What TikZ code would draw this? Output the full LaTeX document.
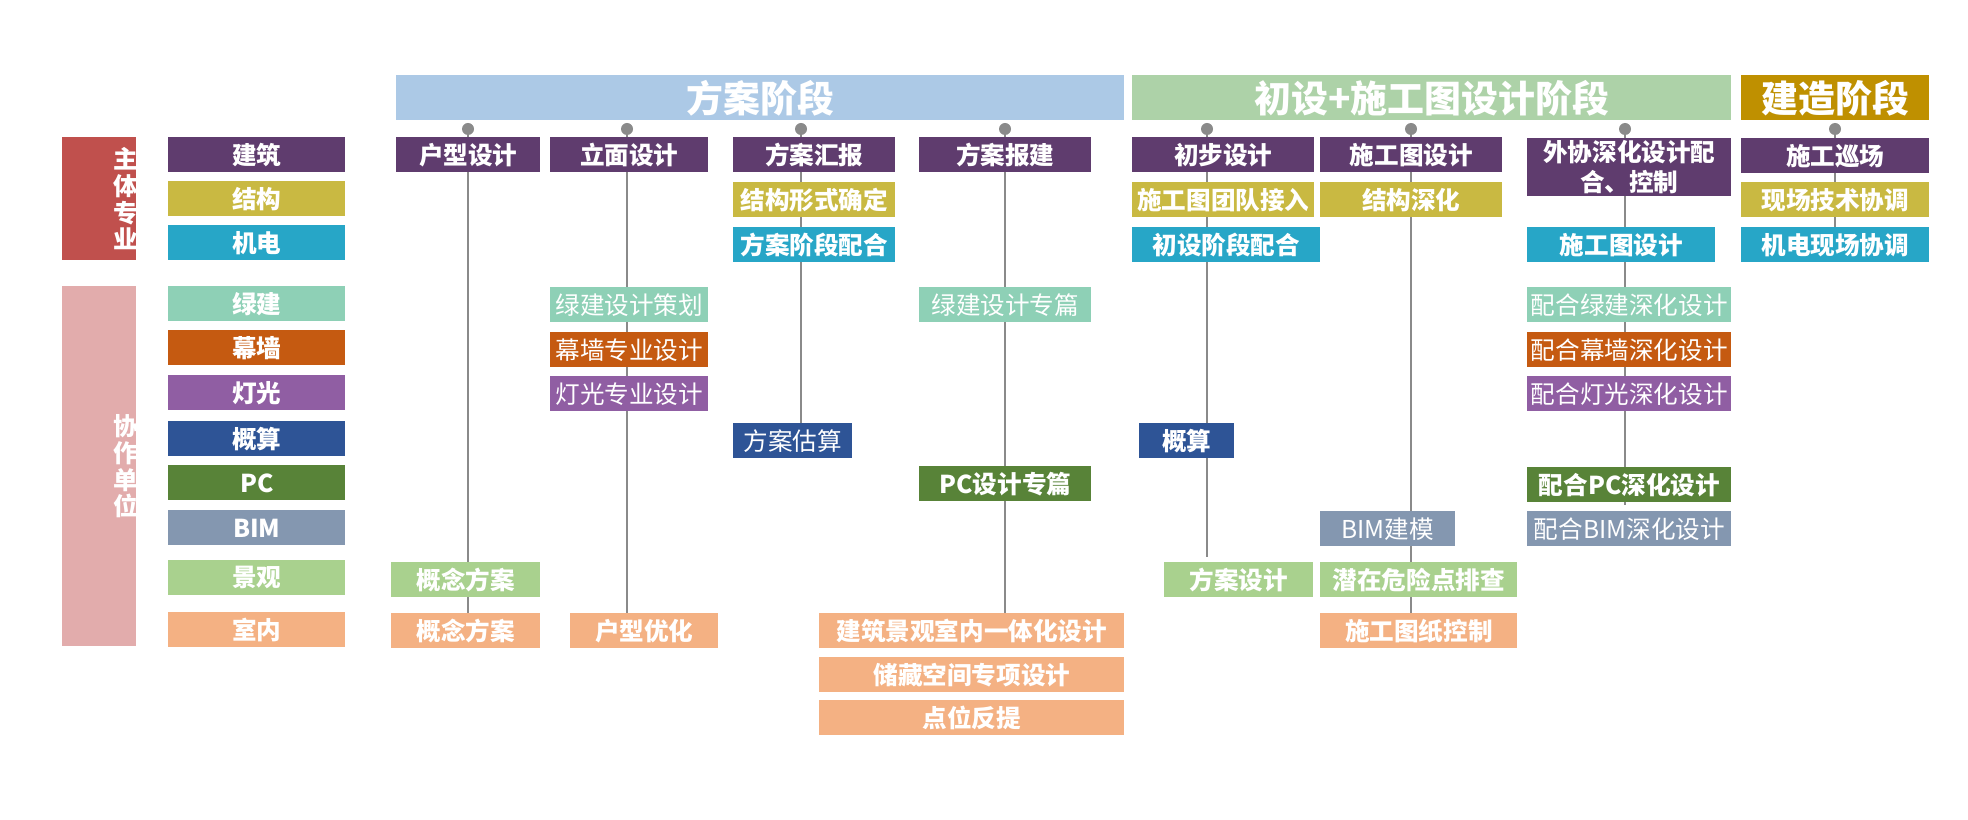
\documentclass[tikz,border=0pt]{standalone}
\usepackage{fontspec}
\setmainfont{Noto Sans CJK SC}
\usepackage{tikz}
\usetikzlibrary{backgrounds,calc}
\definecolor{cpurple}{HTML}{5F3C6E}
\definecolor{colive}{HTML}{C9B942}
\definecolor{ccyan}{HTML}{27A6C7}
\definecolor{cmint}{HTML}{8ED0B6}
\definecolor{crust}{HTML}{C55A11}
\definecolor{cviolet}{HTML}{905EA3}
\definecolor{cnavy}{HTML}{2E5496}
\definecolor{cgreen}{HTML}{588338}
\definecolor{cslate}{HTML}{8497B0}
\definecolor{clgreen}{HTML}{A9D18E}
\definecolor{cpeach}{HTML}{F4B183}
\definecolor{cred}{HTML}{C0504D}
\definecolor{cpink}{HTML}{E2ACAC}
\definecolor{pblue}{HTML}{ACC9E6}
\definecolor{pgreen}{HTML}{ADD2A8}
\definecolor{pgold}{HTML}{BF9000}
\definecolor{stemgray}{HTML}{8A8A8A}

\begin{document}
\begin{tikzpicture}[x=0.2mm,y=-0.2mm,
  cell/.style={anchor=north west,inner sep=0pt,minimum height=35*0.2mm,text=white,
    font=\fontsize{14}{17}\selectfont\bfseries},
  lite/.style={font=\fontsize{14}{17}\selectfont},
  phase/.style={anchor=north west,inner sep=0pt,minimum height=45*0.2mm,text=white,
    font=\fontsize{21}{24}\selectfont\bfseries},
  side/.style={anchor=north west,inner sep=0pt,minimum width=74*0.2mm,text=white,
    align=center,font=\fontsize{14}{15.2}\selectfont\bfseries},
  knob/.style={circle,fill=stemgray,inner sep=0pt,minimum size=12*0.2mm},
  stem/.style={draw=stemgray,line width=0.4mm}]
  \useasboundingbox (0,0) rectangle (1968,820);
  % left legend
  \node[side,fill=cred,minimum height=123*0.2mm] (zhuti) at (62,137) {\hspace*{30pt}\makebox[0pt]{主}\\\hspace*{30pt}\makebox[0pt]{体}\\\hspace*{30pt}\makebox[0pt]{专}\\\hspace*{30pt}\makebox[0pt]{业}};
  \node[side,fill=cpink,minimum height=360*0.2mm] (xiezuo) at (62,286) {\hspace*{30pt}\makebox[0pt]{协}\\\hspace*{30pt}\makebox[0pt]{作}\\\hspace*{30pt}\makebox[0pt]{单}\\\hspace*{30pt}\makebox[0pt]{位}};
  \foreach \n/\yy/\c/\t in {jz/137/cpurple/建筑,jg/181/colive/结构,jd/225/ccyan/机电,
      lj/286/cmint/绿建,mq/330/crust/幕墙,dg/375/cviolet/灯光,gs/421/cnavy/概算,
      pc/465/cgreen/PC,bim/510/cslate/BIM,jgu/560/clgreen/景观,sn/612/cpeach/室内}
    \node[cell,fill=\c,minimum width=177*0.2mm] (\n) at (168,\yy) {\t};
  % phases
  \node[phase,fill=pblue,minimum width=728*0.2mm] (p1) at (396,75) {方案阶段};
  \node[phase,fill=pgreen,minimum width=599*0.2mm] (p2) at (1132,75) {初设+施工图设计阶段};
  \node[phase,fill=pgold,minimum width=188*0.2mm] (p3) at (1741,75) {建造阶段};
  % scheme stage
  \node[cell,fill=cpurple,minimum width=144*0.2mm] (a1) at (396,137) {户型设计};
  \node[cell,fill=clgreen,minimum width=149*0.2mm] (a2) at (391,562) {概念方案};
  \node[cell,fill=cpeach,minimum width=149*0.2mm] (a3) at (391,613) {概念方案};
  \node[cell,fill=cpurple,minimum width=158*0.2mm] (b1) at (550,137) {立面设计};
  \node[cell,lite,fill=cmint,minimum width=158*0.2mm] (b2) at (550,287) {绿建设计策划};
  \node[cell,lite,fill=crust,minimum width=158*0.2mm] (b3) at (550,332) {幕墙专业设计};
  \node[cell,lite,fill=cviolet,minimum width=158*0.2mm] (b4) at (550,376) {灯光专业设计};
  \node[cell,fill=cpeach,minimum width=148*0.2mm] (b5) at (570,613) {户型优化};
  \node[cell,fill=cpurple,minimum width=162*0.2mm] (c1) at (733,137) {方案汇报};
  \node[cell,fill=colive,minimum width=162*0.2mm] (c2) at (733,182) {结构形式确定};
  \node[cell,fill=ccyan,minimum width=162*0.2mm] (c3) at (733,227) {方案阶段配合};
  \node[cell,lite,fill=cnavy,minimum width=119*0.2mm] (c4) at (733,423) {方案估算};
  \node[cell,fill=cpurple,minimum width=172*0.2mm] (d1) at (919,137) {方案报建};
  \node[cell,lite,fill=cmint,minimum width=172*0.2mm] (d2) at (919,287) {绿建设计专篇};
  \node[cell,fill=cgreen,minimum width=172*0.2mm] (d3) at (919,466) {PC设计专篇};
  \node[cell,fill=cpeach,minimum width=305*0.2mm] (d4) at (819,613) {建筑景观室内一体化设计};
  \node[cell,fill=cpeach,minimum width=305*0.2mm] (d5) at (819,657) {储藏空间专项设计};
  \node[cell,fill=cpeach,minimum width=305*0.2mm] (d6) at (819,700) {点位反提};
  % design + drawings stage
  \node[cell,fill=cpurple,minimum width=182*0.2mm] (e1) at (1132,137) {初步设计};
  \node[cell,fill=colive,minimum width=182*0.2mm] (e2) at (1132,182) {施工图团队接入};
  \node[cell,fill=ccyan,minimum width=188*0.2mm] (e3) at (1132,227) {初设阶段配合};
  \node[cell,fill=cnavy,minimum width=95*0.2mm] (e4) at (1139,423) {概算};
  \node[cell,fill=clgreen,minimum width=149*0.2mm] (e5) at (1164,562) {方案设计};
  \node[cell,fill=cpurple,minimum width=182*0.2mm] (f1) at (1320,137) {施工图设计};
  \node[cell,fill=colive,minimum width=182*0.2mm] (f2) at (1320,182) {结构深化};
  \node[cell,lite,fill=cslate,minimum width=135*0.2mm] (f3) at (1320,511) {BIM建模};
  \node[cell,fill=clgreen,minimum width=197*0.2mm] (f4) at (1320,562) {潜在危险点排查};
  \node[cell,fill=cpeach,minimum width=197*0.2mm] (f5) at (1320,613) {施工图纸控制};
  \node[cell,fill=cpurple,minimum width=204*0.2mm,minimum height=58*0.2mm,align=center]
    (g1) at (1527,138) {外协深化设计配\\合、控制};
  \node[cell,fill=ccyan,minimum width=188*0.2mm] (g2) at (1527,227) {施工图设计};
  \node[cell,lite,fill=cmint,minimum width=204*0.2mm] (g3) at (1527,287) {配合绿建深化设计};
  \node[cell,lite,fill=crust,minimum width=204*0.2mm] (g4) at (1527,332) {配合幕墙深化设计};
  \node[cell,lite,fill=cviolet,minimum width=204*0.2mm] (g5) at (1527,376) {配合灯光深化设计};
  \node[cell,fill=cgreen,minimum width=204*0.2mm] (g6) at (1527,467) {配合PC深化设计};
  \node[cell,lite,fill=cslate,minimum width=204*0.2mm] (g7) at (1527,511) {配合BIM深化设计};
  % build stage
  \node[cell,fill=cpurple,minimum width=188*0.2mm] (h1) at (1741,138) {施工巡场};
  \node[cell,fill=colive,minimum width=188*0.2mm] (h2) at (1741,182) {现场技术协调};
  \node[cell,fill=ccyan,minimum width=188*0.2mm] (h3) at (1741,227) {机电现场协调};
  % knobs and stems
  \foreach \k/\xx in {k1/468,k2/627,k3/801,k4/1005,k5/1207,k6/1411,k7/1625,k8/1835}
    \node[knob] (\k) at (\xx,129) {};
  \begin{scope}[on background layer]
    \fill[white] (0,0) rectangle (1968,820);
    \draw[stem] (k1) -- (k1 |- a3.north);
    \draw[stem] (k2) -- (k2 |- b5.north);
    \draw[stem] (k3) -- (k3 |- c4.north);
    \draw[stem] (k4) -- (k4 |- d4.north);
    \draw[stem] (k5) -- ($(k5 |- e5.north)+(0,-5)$);
    \draw[stem] (k6) -- (k6 |- f5.north);
    \draw[stem] (k7) -- ($(k7 |- g6.south)+(0,2)$);
    \draw[stem] (k8) -- (k8 |- h3.north);
  \end{scope}
\end{tikzpicture}
\end{document}
